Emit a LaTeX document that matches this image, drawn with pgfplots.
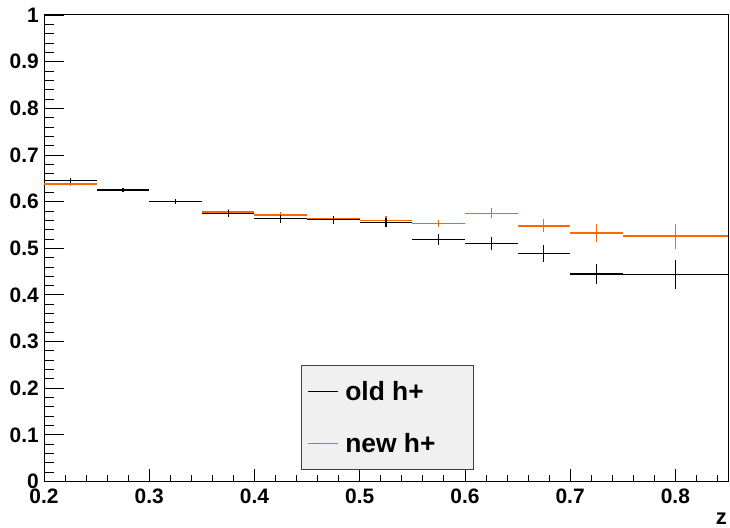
\documentclass[border=0pt]{standalone}
\usepackage{pgfplots}
\pgfplotsset{compat=1.18}
\usepackage{fontspec}
\setmainfont{Liberation Sans}
\definecolor{rootorange}{rgb}{1,0.4,0}
\definecolor{legfill}{RGB}{240,240,240}
\begin{document}
\begin{tikzpicture}
\useasboundingbox (0,0) rectangle (730bp,528bp);
\begin{axis}[
  at={(44bp,46.5bp)}, anchor=south west,
  scale only axis, width=684bp, height=466.5bp,
  xmin=0.2, xmax=0.85, ymin=0, ymax=1,
  xtick={0.2,0.3,0.4,0.5,0.6,0.7,0.8},
  ytick={0,0.1,0.2,0.3,0.4,0.5,0.6,0.7,0.8,0.9,1},
  minor xtick={0.22,0.24,0.26,0.28,0.32,0.34,0.36,0.38,0.42,0.44,0.46,0.48,0.52,0.54,0.56,0.58,0.62,0.64,0.66,0.68,0.72,0.74,0.76,0.78,0.82,0.84},
  minor ytick={0.02,0.04,0.06,0.08,0.12,0.14,0.16,0.18,0.22,0.24,0.26,0.28,0.32,0.34,0.36,0.38,0.42,0.44,0.46,0.48,0.52,0.54,0.56,0.58,0.62,0.64,0.66,0.68,0.72,0.74,0.76,0.78,0.82,0.84,0.86,0.88,0.92,0.94,0.96,0.98},
  tick align=inside, xtick pos=bottom, ytick pos=left,
  major tick length=20bp, minor tick length=10bp,
  x tick style={/pgfplots/major tick length=13bp,/pgfplots/minor tick length=7bp},
  tick style={black, line width=0.8bp},
  axis line style={black, line width=1bp},
  /pgf/number format/assume math mode=true,
  ticklabel style={font=\fontsize{21}{24}\selectfont\bfseries, inner sep=0pt},
  yticklabel style={anchor=east, xshift=-5bp},
  xticklabel style={anchor=north, yshift=-7bp},
  xlabel={z},
  xlabel style={at={(rel axis cs:1,0)}, anchor=base east, inner sep=0pt, xshift=-1bp, yshift=-42.5bp, font=\fontsize{22}{24}\selectfont\bfseries},
  legend image code/.code={\draw[#1] (0bp,0bp) -- (30bp,0bp);},
  legend style={at={(axis cs:0.444,0.2497)}, anchor=north west, fill=legfill, draw=black!75, line width=0.7bp,
    inner xsep=6bp, inner ysep=13bp, row sep=26bp, column sep=7bp,
    font=\fontsize{26.5}{28}\selectfont\bfseries,
    nodes={inner sep=0pt, minimum height=26bp}},
  legend cell align=left,
]
\addlegendimage{draw=black, line width=1.2bp}
\addlegendentry{\makebox[122bp][l]{old h+}}
\addlegendimage{draw=rootorange, line width=1.2bp}
\addlegendentry{\makebox[122bp][l]{new h+}}

% new h+
\addplot[forget plot, rootorange, only marks, mark=*, mark size=0pt, mark options={draw=none, fill=none},
  error bars/.cd, x dir=both, x explicit, y dir=both, y explicit, error mark=none,
  error bar style={draw=rootorange, line width=1.3bp}]
coordinates {
  (0.225,0.638) +- (0.025,0.005)
  (0.275,0.626) +- (0.025,0.004)
  (0.325,0.600) +- (0.025,0.004)
  (0.375,0.578) +- (0.025,0.006)
  (0.425,0.571) +- (0.025,0.007)
  (0.475,0.563) +- (0.025,0.007)
  (0.525,0.560) +- (0.025,0.009)
  (0.575,0.553) +- (0.025,0.008)
  (0.625,0.575) +- (0.025,0.011)
  (0.675,0.548) +- (0.025,0.014)
  (0.725,0.533) +- (0.025,0.019)
  (0.800,0.526) +- (0.050,0.027)
};
% old h+
\addplot[forget plot, black, only marks, mark=*, mark size=0pt, mark options={draw=none, fill=none},
  error bars/.cd, x dir=both, x explicit, y dir=both, y explicit, error mark=none,
  error bar style={draw=black, line width=1.2bp}]
coordinates {
  (0.225,0.645) +- (0.025,0.006)
  (0.275,0.625) +- (0.025,0.005)
  (0.325,0.600) +- (0.025,0.006)
  (0.375,0.575) +- (0.025,0.007)
  (0.425,0.563) +- (0.025,0.009)
  (0.475,0.561) +- (0.025,0.008)
  (0.525,0.555) +- (0.025,0.010)
  (0.575,0.519) +- (0.025,0.011)
  (0.625,0.511) +- (0.025,0.014)
  (0.675,0.488) +- (0.025,0.018)
  (0.725,0.445) +- (0.025,0.022)
  (0.800,0.444) +- (0.050,0.031)
};
\end{axis}
\end{tikzpicture}
\end{document}
